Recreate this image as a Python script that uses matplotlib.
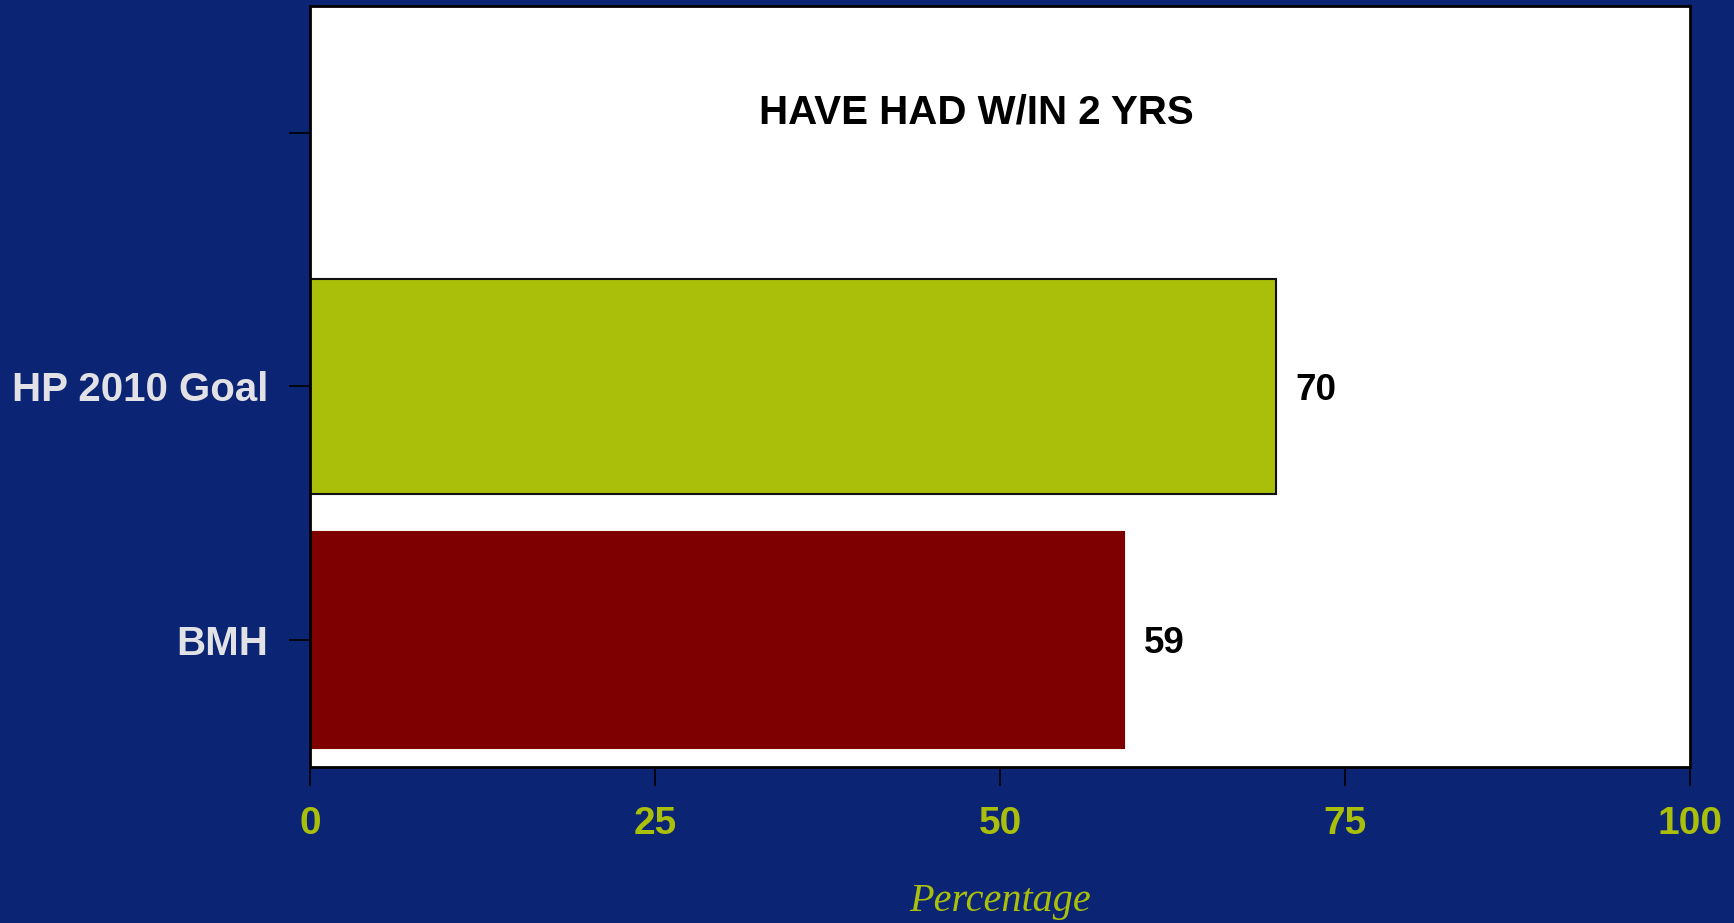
import matplotlib
matplotlib.use('Agg')
import matplotlib.pyplot as plt

# data
categories = ['BMH', 'HP 2010 Goal', '']
values = [59, 70]
bar_colors = ['#7f0000', '#aabf0a']
edge_colors = ['#7f0000', '#111111']
xticks = [0, 25, 50, 75, 100]
title = 'HAVE HAD W/IN 2 YRS'

navy = '#0b2574'
green = '#aabf0a'

fig = plt.figure(figsize=(17.34, 9.23), dpi=100, facecolor=navy)
ax = fig.add_axes([0.1788, 0.1693, 0.7958, 0.8242])
ax.set_facecolor('white')

ypos = list(range(len(values)))
ax.barh(ypos, values, height=0.85, color=bar_colors, edgecolor=edge_colors, linewidth=1.5)

for y, v in zip(ypos, values):
    ax.text(v + 1.4, y - 0.015, str(v), va='center', ha='left', fontsize=26.5,
            fontweight='bold', family='Liberation Sans', color='black')

ax.set_xlim(0, 100)
ax.set_ylim(-0.5, 2.5)
ax.set_xticks(xticks)
ax.set_xticklabels([str(t) for t in xticks])
ax.set_yticks(range(len(categories)))
ax.set_yticklabels(categories)

ax.tick_params(axis='x', length=14, width=1.2, color='black', pad=14,
               labelsize=28, labelcolor=green)
ax.tick_params(axis='y', length=15, width=1.2, color='black', pad=15,
               labelsize=29, labelcolor='#e2e2e6')
for lab in ax.get_xticklabels() + ax.get_yticklabels():
    lab.set_fontweight('bold')
    lab.set_family('Liberation Sans')

for sp in ax.spines.values():
    sp.set_linewidth(2)
    sp.set_color('black')

ax.text(0.4826, 0.8600, title, transform=ax.transAxes, ha='center', va='center',
        fontsize=29, fontweight='bold', family='Liberation Sans', color='black')

ax.set_xlabel('Percentage', fontsize=29, style='italic', family='Liberation Serif',
              color=green, labelpad=30)

fig.savefig('out.png', dpi=100, facecolor=navy)
